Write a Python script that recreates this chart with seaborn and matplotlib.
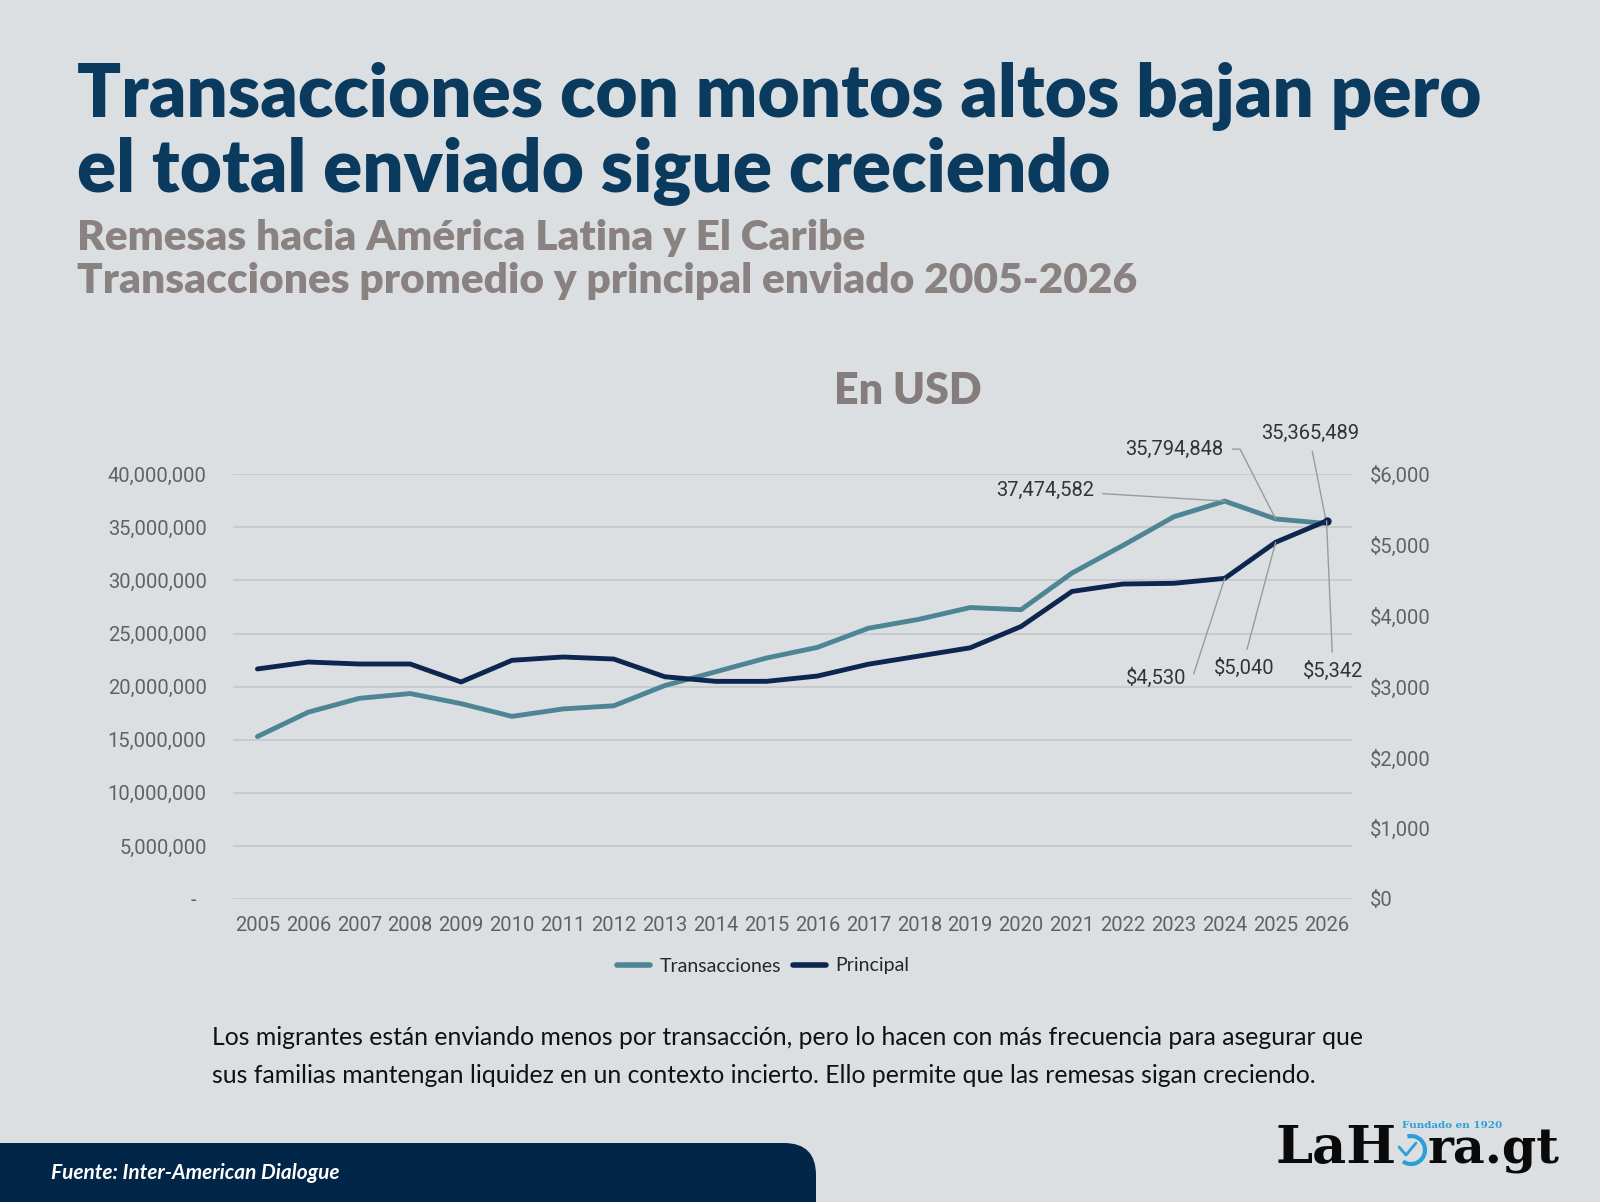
import numpy as np
import pandas as pd
import seaborn as sns
import matplotlib.pyplot as plt
from matplotlib.patches import FancyBboxPatch, Arc
from matplotlib.lines import Line2D
from matplotlib.ticker import FuncFormatter
from matplotlib.transforms import IdentityTransform

# Data
years = list(range(2005, 2027))
transacciones = [15300000, 17600000, 18900000, 19350000, 18400000, 17200000,
                 17900000, 18200000, 20100000, 21400000, 22700000, 23700000,
                 25500000, 26350000, 27450000, 27250000, 30700000, 33300000,
                 36000000, 37474582, 35794848, 35365489]
principal = [3250, 3348, 3320, 3320, 3066, 3372, 3419, 3390, 3140, 3075,
             3075, 3150, 3317, 3433, 3549, 3850, 4345, 4450, 4460, 4530,
             5040, 5342]

left_ticks = [0, 5000000, 10000000, 15000000, 20000000, 25000000, 30000000,
              35000000, 40000000]
right_ticks = [0, 1000, 2000, 3000, 4000, 5000, 6000]

title_lines = ["Transacciones con montos altos bajan pero",
               "el total enviado sigue creciendo"]
subtitle_lines = ["Remesas hacia América Latina y El Caribe",
                  "Transacciones promedio y principal enviado 2005-2026"]
body_lines = ["Los migrantes están enviando menos por transacción, pero lo hacen con más frecuencia para asegurar que",
              "sus familias mantengan liquidez en un contexto incierto. Ello permite que las remesas sigan creciendo."]

BG = "#dcdfe2"
TEAL = "#4e8594"
NAVY = "#0c2650"
TITLE_C = "#0a3b5e"
SUB_C = "#8a8280"
TICK_C = "#606164"
ANN_C = "#333333"
LEAD_C = "#9a9a9a"
BLUE = "#2a9fd8"

df = pd.DataFrame({"year": years, "transacciones": transacciones,
                   "principal": principal})

sns.set_theme(style="white")
plt.rcParams["font.family"] = ["Lato", "DejaVu Sans"]

W, H = 1600, 1202
fig = plt.figure(figsize=(16, 12.02), dpi=100, facecolor=BG)


def fx(px):
    return px / W


def fy(py):
    return 1 - py / H


# chart area
ax = fig.add_axes([fx(233), fy(899), fx(1352) - fx(233), fy(474.3) - fy(899)])
ax.set_facecolor(BG)
ax2 = ax.twinx()

sns.lineplot(data=df, x="year", y="transacciones", ax=ax, color=TEAL,
             linewidth=3.5, solid_capstyle="round", solid_joinstyle="round")
sns.lineplot(data=df, x="year", y="principal", ax=ax2, color=NAVY,
             linewidth=3.5, solid_capstyle="round", solid_joinstyle="round")
ax2.plot([years[-1]], [principal[-1]], "o", color=NAVY, markersize=5)

ax.set_xlim(2004.52, 2026.5)
ax.set_ylim(0, 40000000)
ax2.set_ylim(0, 6000)
ax.set_yticks(left_ticks)
ax2.set_yticks(right_ticks)
ax.set_xticks(years)
ax.yaxis.set_major_formatter(FuncFormatter(
    lambda v, p: "-  " if v == 0 else f"{int(v):,}"))
ax2.yaxis.set_major_formatter(FuncFormatter(lambda v, p: f"\\${int(v):,}"))
ax.set_xlabel("")
ax.set_ylabel("")
ax2.set_ylabel("")

ax.grid(axis="y", color="#c6c9cc", linewidth=1.3)
ax.grid(axis="x", visible=False)
ax2.grid(False)
for a in (ax, ax2):
    for s in a.spines.values():
        s.set_visible(False)
ax.tick_params(axis="y", length=0, pad=19, labelsize=14.5, labelcolor=TICK_C)
ax.tick_params(axis="x", length=0, pad=12, labelsize=14.5, labelcolor=TICK_C)
ax2.tick_params(axis="y", length=0, pad=13, labelsize=14.5, labelcolor=TICK_C)
for lab in ax.get_xticklabels() + ax.get_yticklabels() + ax2.get_yticklabels():
    lab.set_fontfamily("Roboto")


# annotations
def px2x(px):
    return 2005 + (px - 257) / 50.95


def py2m(py):
    return (899 - py) / 10.62 * 1e6


lead = dict(arrowstyle="-", color=LEAD_C, lw=1.0, shrinkA=4, shrinkB=0)
afont = dict(fontsize=14.5, color=ANN_C, family="Roboto", annotation_clip=False)

ax.annotate(f"{transacciones[19]:,}", xy=(years[19], transacciones[19]),
            xytext=(px2x(1094), py2m(490)), ha="right", va="center",
            arrowprops=lead, **afont)
ax.annotate(f"{transacciones[20]:,}", xy=(years[20], transacciones[20]),
            xytext=(px2x(1224), py2m(449)), ha="right", va="center",
            arrowprops=dict(lead, connectionstyle="angle,angleA=0,angleB=117,rad=0"),
            **afont)
ax.annotate(f"{transacciones[21]:,}", xy=(years[21], transacciones[21]),
            xytext=(px2x(1311), py2m(433)), ha="center", va="center",
            arrowprops=dict(lead, relpos=(0.5, 0.0)), **afont)

ax2.annotate(f"\\${principal[19]:,}", xy=(years[19], principal[19]),
             xytext=(px2x(1187), py2m(678) * 150 / 1e6), ha="right", va="center",
             arrowprops=dict(lead, connectionstyle="angle,angleA=0,angleB=72,rad=0"),
             **afont)
ax2.annotate(f"\\${principal[20]:,}", xy=(years[20], principal[20]),
             xytext=(px2x(1245), py2m(668) * 150 / 1e6), ha="center", va="center",
             arrowprops=dict(lead, relpos=(0.5, 1.0)), **afont)
ax2.annotate(f"\\${principal[21]:,}", xy=(years[21], principal[21]),
             xytext=(px2x(1333), py2m(671) * 150 / 1e6), ha="center", va="center",
             arrowprops=dict(lead, relpos=(0.5, 1.0)), **afont)

# legend
handles = [Line2D([0], [0], color=TEAL, lw=4, solid_capstyle="round"),
           Line2D([0], [0], color=NAVY, lw=4, solid_capstyle="round")]
fig.legend(handles, ["Transacciones", "Principal"], loc="center",
           bbox_to_anchor=(fx(763), fy(966)), ncol=2, frameon=False,
           prop={"family": "Lato", "size": 14}, handlelength=1.7,
           handletextpad=0.5, columnspacing=0.6)

# titles
fig.text(fx(77), fy(117), title_lines[0], fontsize=52.3, fontweight="heavy",
         color=TITLE_C, va="baseline")
fig.text(fx(77), fy(192), title_lines[1], fontsize=52.3, fontweight="heavy",
         color=TITLE_C, va="baseline")
fig.text(fx(77), fy(250), subtitle_lines[0], fontsize=30.5, fontweight="heavy",
         color=SUB_C, va="baseline")
fig.text(fx(77), fy(293), subtitle_lines[1], fontsize=30.5, fontweight="heavy",
         color=SUB_C, va="baseline")
fig.text(fx(908), fy(404), "En USD", fontsize=31, fontweight="heavy",
         color="#857d7c", ha="center", va="baseline")

# body text
fig.text(fx(212), fy(1045), body_lines[0], fontsize=17.8, color="#111111",
         va="baseline")
fig.text(fx(212), fy(1083), body_lines[1], fontsize=17.8, color="#111111",
         va="baseline")

# footer bar
bar = FancyBboxPatch((-40, -40), 856, 99,
                     boxstyle="round,pad=0,rounding_size=32",
                     transform=IdentityTransform(), facecolor="#012648",
                     edgecolor="none")
fig.add_artist(bar)
fig.text(fx(51), fy(1173), "Fuente: Inter-American Dialogue", fontsize=15,
         fontweight="bold", fontstyle="italic", color="white", va="center")

# logo
lfont = dict(family="DejaVu Serif", fontweight="bold", color="#0a0a0a",
             va="baseline")
fig.text(fx(1275), fy(1163), "LaH", fontsize=38, **lfont)
fig.text(fx(1428), fy(1163), "ra.gt", fontsize=35.5, **lfont)
fig.text(fx(1402), fy(1128), "Fundado en 1920", family="DejaVu Serif",
         fontweight="bold", fontsize=7.5, color=BLUE, va="baseline")
clock = Arc((1411, H - 1150), 28, 28, theta1=-125, theta2=105,
            transform=IdentityTransform(), color=BLUE, lw=3)
fig.add_artist(clock)
fig.add_artist(Line2D([1399, 1406, 1416], [H - 1147, H - 1155, H - 1143],
                      transform=IdentityTransform(), color=BLUE, lw=2))

fig.savefig("out.png", dpi=100, facecolor=BG)
